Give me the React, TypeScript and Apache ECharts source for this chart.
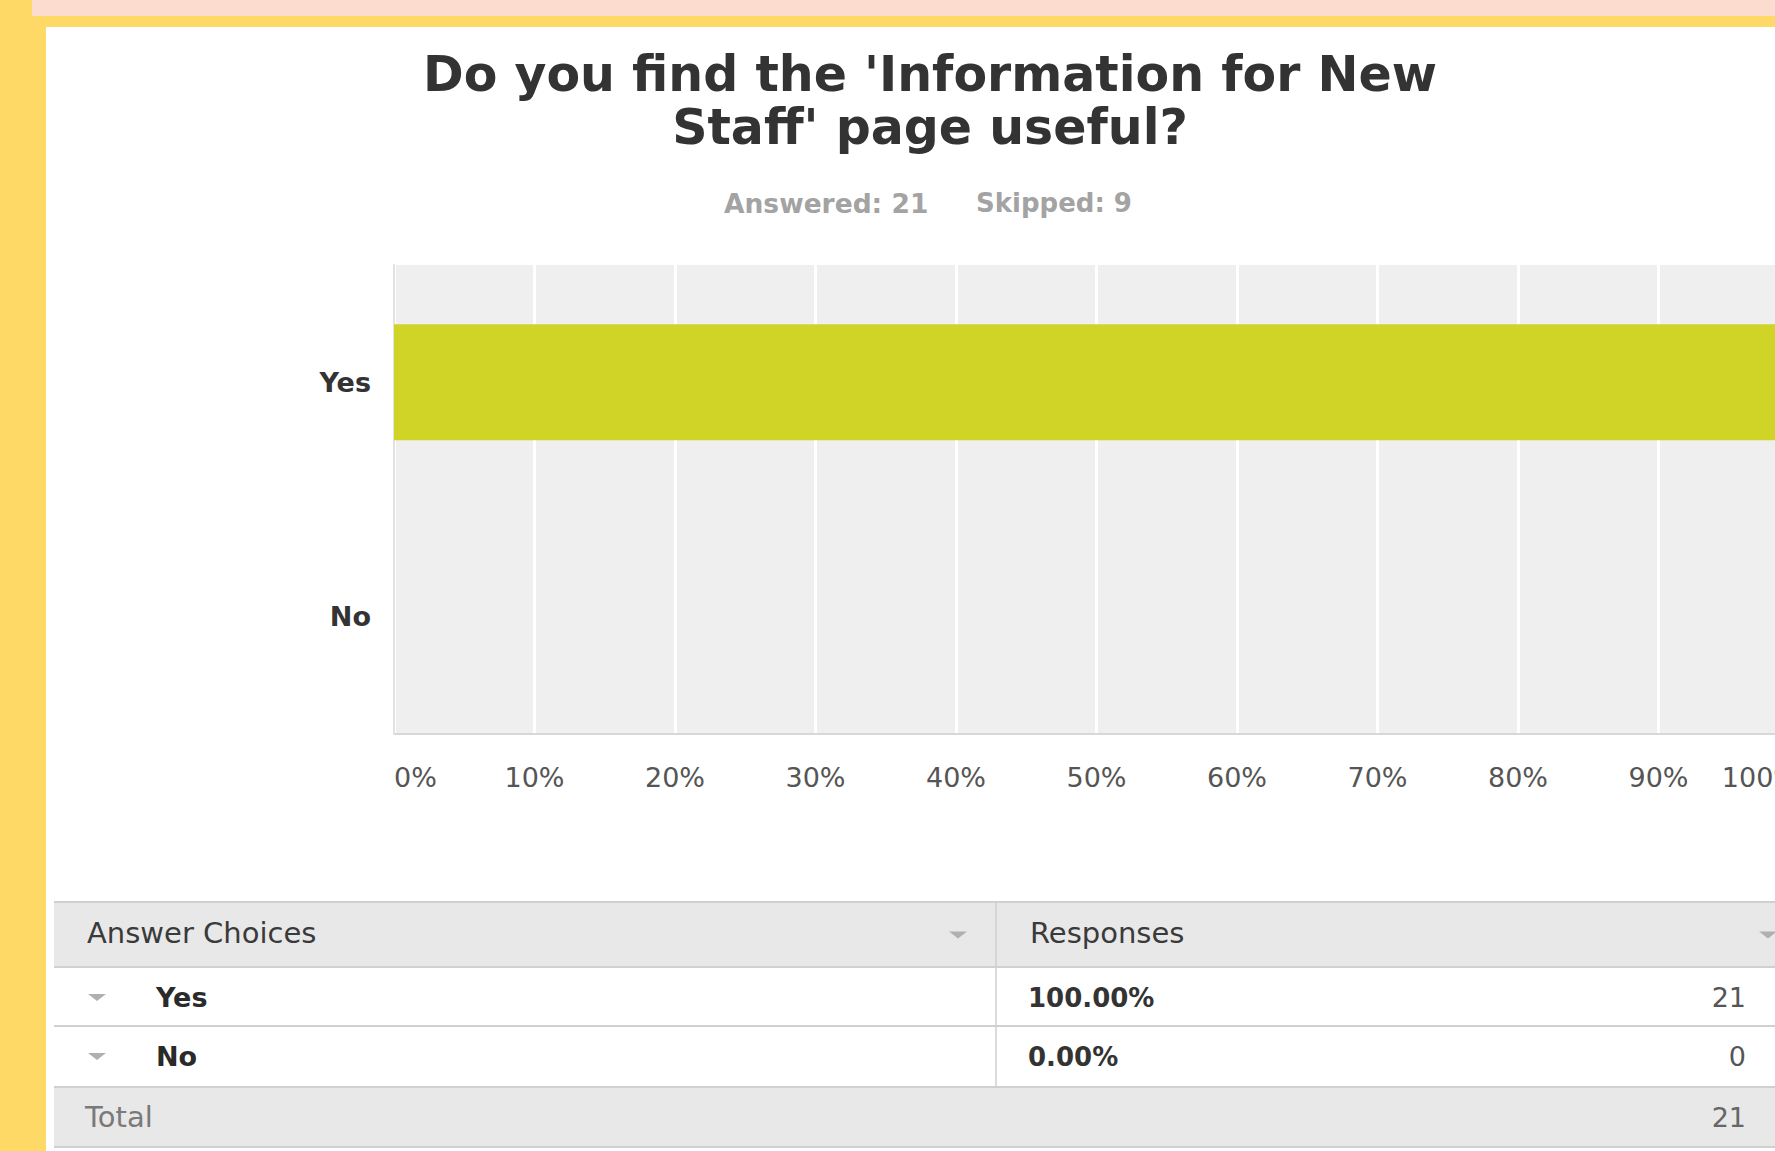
import React, { useEffect, useRef } from "react";
import * as echarts from "echarts";

const titleLines = ["Do you find the 'Information for New", "Staff' page useful?"];
const answered = 21;
const skipped = 9;
const categories = ["Yes", "No"];
const percentages = [100, 0];
const counts = [21, 0];
const total = 21;
const tableHeaders = ["Answer Choices", "Responses"];

const FONT = "DejaVu Sans";

export default function App() {
  const ref = useRef<HTMLDivElement>(null);

  useEffect(() => {
    if (!ref.current) return;
    const chart = echarts.init(ref.current, undefined, { renderer: "svg" });

    const rowTops = [968, 1027];
    const rowH = 59;
    const graphics: any[] = [];

    // Title
    titleLines.forEach((t, i) => {
      graphics.push({
        type: "text",
        x: 930,
        y: 74 + i * 53,
        style: {
          text: t,
          fill: "#333333",
          fontSize: 49,
          fontWeight: "bold",
          fontFamily: FONT,
          align: "center",
          verticalAlign: "middle",
          textAlign: "center",
          textVerticalAlign: "middle",
        },
      });
    });
    // Answered / Skipped
    graphics.push({
      type: "text",
      x: 724,
      y: 203,
      style: {
        text: "Answered: " + answered,
        fill: "#a3a3a3",
        fontSize: 26.5,
        fontWeight: "bold",
        fontFamily: FONT,
        align: "left",
        verticalAlign: "middle",
        textAlign: "left",
        textVerticalAlign: "middle",
      },
    });
    graphics.push({
      type: "text",
      x: 976,
      y: 203,
      style: {
        text: "Skipped: " + skipped,
        fill: "#a3a3a3",
        fontSize: 26,
        fontWeight: "bold",
        fontFamily: FONT,
        align: "left",
        verticalAlign: "middle",
        textAlign: "left",
        textVerticalAlign: "middle",
      },
    });

    // Table backgrounds
    graphics.push({ type: "rect", shape: { x: 54, y: 902, width: 1900, height: 64 }, style: { fill: "#e8e8e8" } });
    graphics.push({ type: "rect", shape: { x: 54, y: 1088, width: 1900, height: 59 }, style: { fill: "#e8e8e8" } });
    const hLines = [902, 967, 1026, 1087, 1147];
    hLines.forEach((y) => {
      graphics.push({
        type: "line",
        shape: { x1: 54, y1: y, x2: 1954, y2: y },
        style: { stroke: "#d0d0d0", lineWidth: 2 },
      });
    });
    graphics.push({
      type: "line",
      shape: { x1: 996, y1: 902, x2: 996, y2: 1087 },
      style: { stroke: "#cfcfcf", lineWidth: 1.5 },
    });

    const txt = (text: string, x: number, y: number, opts: any = {}) => ({
      type: "text",
      x,
      y,
      style: {
        text,
        fill: opts.fill || "#333333",
        fontSize: opts.fontSize || 28,
        fontWeight: opts.fontWeight || "normal",
        fontFamily: FONT,
        align: opts.align || "left",
        verticalAlign: "middle",
        textAlign: opts.align || "left",
        textVerticalAlign: "middle",
      },
    });
    const tri = (cx: number, cy: number, w: number, h: number) => ({
      type: "polygon",
      shape: { points: [[cx - w / 2, cy - h / 2], [cx + w / 2, cy - h / 2], [cx, cy + h / 2]] },
      style: { fill: "#b0b0b0" },
    });

    graphics.push(txt(tableHeaders[0], 87, 933, { fontSize: 29, fill: "#3a3a3a" }));
    graphics.push(txt(tableHeaders[1], 1030, 933, { fontSize: 29, fill: "#3a3a3a" }));
    graphics.push(tri(958, 935, 18, 7));
    graphics.push(tri(1768, 935, 18, 7));

    categories.forEach((c, i) => {
      const cy = rowTops[i] + rowH / 2;
      graphics.push(tri(97, cy, 18, 7));
      graphics.push(txt(c, 156, cy, { fontSize: 27, fontWeight: "bold", fill: "#2a2a2a" }));
      graphics.push(txt(percentages[i].toFixed(2) + "%", 1028, cy, { fontSize: 26, fontWeight: "bold", fill: "#333333" }));
      graphics.push(txt(String(counts[i]), 1746, cy, { fontSize: 27, fill: "#555555", align: "right" }));
    });
    graphics.push(txt("Total", 85, 1117, { fontSize: 29, fill: "#7a7a7a" }));
    graphics.push(txt(String(total), 1746, 1117, { fontSize: 27, fill: "#666666", align: "right" }));

    chart.setOption({
      animation: false,
      backgroundColor: "transparent",
      grid: {
        left: 394,
        top: 265,
        width: 1405,
        height: 469,
        show: true,
        backgroundColor: "#efefef",
        borderWidth: 0,
        containLabel: false,
      },
      xAxis: {
        type: "value",
        min: 0,
        max: 100,
        interval: 10,
        axisLine: { show: true, lineStyle: { color: "#d8d8d8", width: 2 } },
        axisTick: { show: false },
        splitLine: { show: true, lineStyle: { color: "#ffffff", width: 3 } },
        axisLabel: {
          formatter: "{value}%",
          fontSize: 27,
          fontFamily: FONT,
          color: "#555555",
          margin: 30,
          alignMinLabel: "left",
          alignMaxLabel: "right",
        },
      },
      yAxis: {
        type: "category",
        data: categories,
        inverse: true,
        z: 1,
        axisTick: { show: false },
        axisLine: { show: true, lineStyle: { color: "#e2e2e2", width: 2 } },
        splitLine: { show: false },
        axisLabel: {
          fontSize: 27,
          fontWeight: "bold",
          fontFamily: FONT,
          color: "#333333",
          margin: 23,
        },
      },
      series: [
        {
          type: "bar",
          data: percentages,
          barWidth: 116,
          itemStyle: { color: "#cfd427" },
          z: 2,
        },
      ],
      graphic: graphics,
    });

    return () => chart.dispose();
  }, []);

  return (
    <div
      style={{
        position: "fixed",
        left: 0,
        top: 0,
        width: 1775,
        height: 1151,
        overflow: "hidden",
        background: "#ffd966",
      }}
    >
      <div style={{ position: "absolute", left: 32, top: 0, right: 0, height: 16, background: "#fddcd0" }} />
      <div style={{ position: "absolute", left: 46, top: 27, right: 0, bottom: 0, background: "#ffffff" }} />
      <div ref={ref} style={{ position: "absolute", left: 0, top: 0, width: 1900, height: 1151 }} />
    </div>
  );
}
